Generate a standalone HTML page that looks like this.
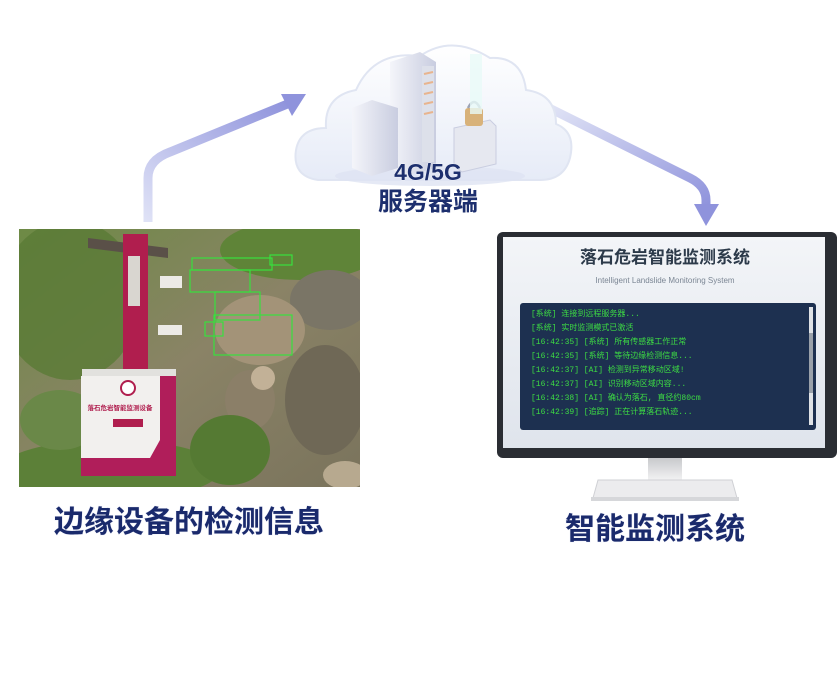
<!DOCTYPE html>
<html><head><meta charset="utf-8"><style>
html,body{margin:0;padding:0;background:#fff;width:838px;height:680px;overflow:hidden}
svg{display:block}
.cn{font-family:"Liberation Sans","Noto Sans CJK SC",sans-serif;font-weight:bold}
</style></head><body>
<svg width="838" height="680" viewBox="0 0 838 680" xmlns="http://www.w3.org/2000/svg">
<defs>
<linearGradient id="arrL" x1="0" y1="1" x2="1" y2="0"><stop offset="0" stop-color="#dfe2f6"/><stop offset="1" stop-color="#8f93dc"/></linearGradient>
<linearGradient id="arrR" x1="0" y1="0" x2="1" y2="1"><stop offset="0" stop-color="#e2e5f6"/><stop offset="1" stop-color="#8f93dc"/></linearGradient>
<linearGradient id="cloud" x1="0" y1="0" x2="0" y2="1"><stop offset="0" stop-color="#ffffff"/><stop offset="1" stop-color="#e6ebf7"/></linearGradient>
<linearGradient id="srv" x1="0" y1="0" x2="1" y2="0"><stop offset="0" stop-color="#f4f5fa"/><stop offset="1" stop-color="#c9cde0"/></linearGradient>
<linearGradient id="scr" x1="0" y1="0" x2="0" y2="1"><stop offset="0" stop-color="#f3f5f8"/><stop offset="1" stop-color="#dfe4ec"/></linearGradient>
<linearGradient id="stand" x1="0" y1="0" x2="0" y2="1"><stop offset="0" stop-color="#c8c9cc"/><stop offset="1" stop-color="#f2f2f3"/></linearGradient>
<linearGradient id="photo" x1="0" y1="0" x2="1" y2="1"><stop offset="0" stop-color="#6d8a45"/><stop offset="0.5" stop-color="#8a8366"/><stop offset="1" stop-color="#7a735c"/></linearGradient>
<clipPath id="pc"><rect x="19" y="229" width="341" height="258"/></clipPath>
</defs>

<!-- arrows -->
<path d="M148,222 L148,178 Q148,160 170,152 L290,103" fill="none" stroke="url(#arrL)" stroke-width="9"/>
<polygon points="306,94 281,94 292,116" fill="#8f93dc"/>
<path d="M545,106 L690,178 Q706,186 706,200 L706,208" fill="none" stroke="url(#arrR)" stroke-width="9"/>
<polygon points="694,204 719,204 706,226" fill="#8f93dc"/>

<!-- cloud -->
<path d="M318,180 Q292,176 296,150 Q300,128 326,128 Q324,96 356,90 Q374,50 420,56 Q452,34 490,58 Q522,56 526,90 Q556,94 556,124 Q576,132 570,158 Q564,180 540,180 Z" fill="url(#cloud)" stroke="#e0e5f2" stroke-width="2"/>
<ellipse cx="430" cy="176" rx="95" ry="10" fill="#dfe4f2" opacity="0.8"/>
<polygon points="390,62 420,52 436,62 436,168 405,176 390,168" fill="url(#srv)"/>
<rect x="422" y="66" width="12" height="96" fill="#dde0ea"/>
<g stroke="#e8b48e" stroke-width="2"><line x1="424" y1="74" x2="433" y2="72"/><line x1="424" y1="84" x2="433" y2="82"/><line x1="424" y1="94" x2="433" y2="92"/><line x1="424" y1="104" x2="433" y2="102"/><line x1="424" y1="114" x2="433" y2="112"/></g>
<polygon points="352,108 372,100 398,108 398,168 372,176 352,168" fill="url(#srv)"/>
<polygon points="454,128 490,120 496,126 496,164 462,172 454,166" fill="#e6e8f0" stroke="#c9cde0"/>
<rect x="465" y="108" width="18" height="18" rx="3" fill="#d8b27a"/>
<path d="M468,108 Q474,96 480,108" fill="none" stroke="#9da3b5" stroke-width="2.5"/>
<rect x="470" y="54" width="12" height="60" fill="#e9faf7" opacity="0.8"/>
<text x="428" y="180" text-anchor="middle" class="cn" font-size="23" fill="#1d2f6e" stroke="#fff" stroke-width="0.6" paint-order="stroke">4G/5G</text>
<text x="428" y="210" text-anchor="middle" class="cn" font-size="25" fill="#1d2f6e">服务器端</text>

<!-- photo -->
<g clip-path="url(#pc)">
<rect x="19" y="229" width="341" height="258" fill="url(#photo)"/>
<ellipse cx="70" cy="300" rx="70" ry="80" fill="#5a7a36" opacity="0.8"/>
<ellipse cx="300" cy="250" rx="80" ry="30" fill="#5f8438"/>
<ellipse cx="330" cy="300" rx="40" ry="30" fill="#7a7566"/>
<ellipse cx="260" cy="330" rx="45" ry="35" fill="#a39378"/>
<ellipse cx="325" cy="400" rx="40" ry="55" fill="#6f6856"/>
<ellipse cx="250" cy="400" rx="25" ry="30" fill="#8b7f68"/>
<ellipse cx="110" cy="470" rx="110" ry="30" fill="#5c8038"/>
<ellipse cx="230" cy="450" rx="40" ry="35" fill="#557a33"/>
<ellipse cx="60" cy="420" rx="40" ry="30" fill="#6a8848"/>
<ellipse cx="345" cy="475" rx="22" ry="14" fill="#b7a98f"/>
<ellipse cx="263" cy="378" rx="12" ry="12" fill="#c2b197"/>
</g>
<g fill="none" stroke="#38e03e" stroke-width="1.2">
<rect x="190" y="270" width="60" height="22"/><rect x="215" y="292" width="45" height="28"/><rect x="214" y="315" width="78" height="40"/><rect x="205" y="322" width="18" height="14"/><rect x="192" y="258" width="80" height="12"/><rect x="270" y="255" width="22" height="10"/></g>
<polygon points="88,238 168,248 168,258 88,248" fill="#5a5048"/>
<rect x="123" y="234" width="25" height="142" fill="#b01e4e"/>
<rect x="128" y="256" width="12" height="50" fill="#d9d6d0"/>
<rect x="160" y="276" width="22" height="12" fill="#eceae6"/>
<rect x="158" y="325" width="24" height="10" fill="#eceae6"/>
<rect x="82" y="369" width="94" height="9" fill="#e2e1de"/>
<rect x="81" y="376" width="95" height="100" fill="#f2f0ee"/>
<rect x="81" y="458" width="95" height="18" fill="#b01e5a"/>
<polygon points="160,376 176,376 176,476 140,476 160,440" fill="#b01e5a"/>
<circle cx="128" cy="388" r="7" fill="#fff" stroke="#b01e4e" stroke-width="2"/>
<text x="120" y="410" text-anchor="middle" class="cn" font-size="6.5" fill="#b01e4e">落石危岩智能监测设备</text>
<rect x="113" y="419" width="30" height="8" fill="#b01e4e"/>

<!-- monitor -->
<rect x="497" y="232" width="340" height="226" rx="6" fill="#2a2d33"/>
<rect x="503" y="237" width="322" height="211" fill="url(#scr)"/>
<text x="665" y="263" text-anchor="middle" class="cn" font-size="17" fill="#2c3a4a">落石危岩智能监测系统</text>
<text x="665" y="283" text-anchor="middle" font-family="Liberation Sans,sans-serif" font-size="8" fill="#7b8694">Intelligent Landslide Monitoring System</text>
<rect x="520" y="303" width="296" height="127" rx="3" fill="#1d3050"/>
<rect x="809" y="307" width="4" height="118" fill="#dfe2e6"/><rect x="809" y="333" width="4" height="60" fill="#9aa1aa"/>
<g font-family="Liberation Mono,Noto Sans CJK SC,monospace" font-size="8" fill="#3ddc43">
<text x="531" y="316">[系统] 连接到远程服务器...</text>
<text x="531" y="330">[系统] 实时监测模式已激活</text>
<text x="531" y="344">[16:42:35] [系统] 所有传感器工作正常</text>
<text x="531" y="358">[16:42:35] [系统] 等待边缘检测信息...</text>
<text x="531" y="372">[16:42:37] [AI] 检测到异常移动区域!</text>
<text x="531" y="386">[16:42:37] [AI] 识别移动区域内容...</text>
<text x="531" y="400">[16:42:38] [AI] 确认为落石, 直径约80cm</text>
<text x="531" y="414">[16:42:39] [追踪] 正在计算落石轨迹...</text>
</g>
<rect x="648" y="458" width="34" height="22" fill="url(#stand)"/>
<path d="M598,480 L732,480 L737,498 L593,498 Z" fill="#ececee" stroke="#cfd0d4"/>
<rect x="591" y="497" width="148" height="4" fill="#d6d7da"/>

<!-- labels -->
<text x="189" y="532" text-anchor="middle" class="cn" font-size="30" fill="#1a2a6c" stroke="#eef0fa" stroke-width="1" paint-order="stroke">边缘设备的检测信息</text>
<text x="655" y="539" text-anchor="middle" class="cn" font-size="30" fill="#1a2a6c" stroke="#eef0fa" stroke-width="1" paint-order="stroke">智能监测系统</text>
</svg>
</body></html>
